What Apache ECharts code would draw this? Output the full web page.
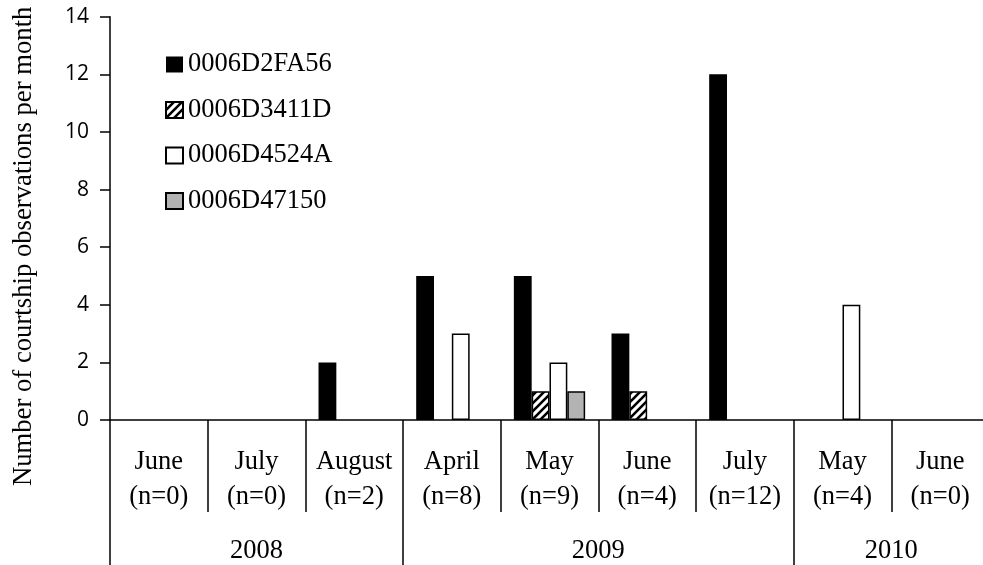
<!DOCTYPE html>
<html><head><meta charset="utf-8">
<script src="https://cdn.jsdelivr.net/npm/echarts@6/dist/echarts.min.js"></script>
<style>html,body{margin:0;padding:0;background:#fff}#c{width:983px;height:565px}</style>
</head><body><div id="c"></div>
<script>
// ---- data ----
const months = ['June','July','August','April','May','June','July','May','June'];
const nCounts = [0,0,2,8,9,4,12,4,0];
const years = ['2008','2009','2010'];
const monthsPerYear = [3,4,2];
const seriesNames = ['0006D2FA56','0006D3411D','0006D4524A','0006D47150'];
const tag56 = [0,0,2,5,5,3,12,0,0];
const tag1D = [0,0,0,0,1,1,0,0,0];
const tag4A = [0,0,0,3,2,0,0,4,0];
const tag50 = [0,0,0,0,1,0,0,0,0];
const yMin = 0, yMax = 14, yStep = 2;
const yTitle = 'Number of courtship observations per month';

// ---- derived ----
const monthLabels = months.map((m,i)=> m + '\n(n=' + nCounts[i] + ')');
const halfCount = months.length * 2 + 1;
const halfData = Array.from({length: halfCount}, (_, i) => 'h' + i);
const yearBoundary = new Set([0]);
const yearLabelAt = {};
let start = 0;
years.forEach((y, k) => {
  yearLabelAt[2*start + monthsPerYear[k]] = y;
  start += monthsPerYear[k];
  yearBoundary.add(2*start);
});
// zero counts draw no bar
const asBars = arr => arr.map(v => v === 0 ? null : v);

// hatch pattern
const pc = document.createElement('canvas');
pc.width = 8; pc.height = 8;
const g = pc.getContext('2d');
g.fillStyle = '#fff'; g.fillRect(0,0,8,8);
g.strokeStyle = '#000'; g.lineWidth = 2.6;
g.beginPath();
g.moveTo(-2,10); g.lineTo(10,-2);
g.moveTo(-2,2); g.lineTo(2,-2);
g.moveTo(6,10); g.lineTo(10,6);
g.stroke();

const serif = 'Liberation Serif';
const chart = echarts.init(document.getElementById('c'), null, {renderer:'canvas'});
chart.setOption({
  animation: false,
  backgroundColor: '#fff',
  grid: {left: 110, width: 879, top: 16.7, height: 403.3, containLabel: false, outerBoundsMode: 'none'},
  legend: {
    data: seriesNames, orient: 'vertical', left: 160, top: 46,
    itemWidth: 17, itemHeight: 16, itemGap: 18.5, icon: 'rect',
    textStyle: {fontFamily: serif, fontSize: 26.5, color: '#000', lineHeight: 26}
  },
  xAxis: [{
    type: 'category', data: monthLabels, position: 'bottom',
    axisLine: {show: true, lineStyle: {color: '#000', width: 1.5}},
    axisTick: {show: true, interval: 0, length: 92, lineStyle: {color: '#000', width: 1.5}},
    axisLabel: {interval: 0, fontFamily: serif, fontSize: 26.5, lineHeight: 35, color: '#000', margin: 25},
    splitLine: {show: false}
  }, {
    type: 'category', data: halfData, position: 'bottom', boundaryGap: false,
    axisLine: {show: false},
    axisTick: {show: true, length: 150, interval: (i) => yearBoundary.has(i), lineStyle: {color: '#000', width: 1.5}},
    axisLabel: {interval: 0, fontFamily: serif, fontSize: 26.5, color: '#000', margin: 118,
      formatter: (v, i) => yearLabelAt[i] || ''},
    splitLine: {show: false}
  }],
  yAxis: {
    type: 'value', min: yMin, max: yMax, interval: yStep,
    name: yTitle, nameLocation: 'middle', nameGap: 73, nameRotate: 90,
    nameTextStyle: {fontFamily: serif, fontSize: 26.7, color: '#000', padding: [0, 56, 0, 0]},
    axisLine: {show: true, lineStyle: {color: '#000', width: 1.5}},
    axisTick: {show: true, length: 10, lineStyle: {color: '#000', width: 1.5}},
    axisLabel: {fontFamily: 'Open Sans', fontSize: 21, color: '#000', margin: 21},
    splitLine: {show: false}
  },
  series: [
    {name: seriesNames[0], type: 'bar', data: asBars(tag56), barGap: '0%', barCategoryGap: '27%',
      itemStyle: {color: '#000', borderWidth: 0}},
    {name: seriesNames[1], type: 'bar', data: asBars(tag1D), barGap: '0%', barCategoryGap: '27%',
      itemStyle: {color: {image: pc, repeat: 'repeat'}, borderColor: '#000', borderWidth: 1.5}},
    {name: seriesNames[2], type: 'bar', data: asBars(tag4A), barGap: '0%', barCategoryGap: '27%',
      itemStyle: {color: '#fff', borderColor: '#000', borderWidth: 1.5}},
    {name: seriesNames[3], type: 'bar', data: asBars(tag50), barGap: '0%', barCategoryGap: '27%',
      itemStyle: {color: '#b3b3b3', borderColor: '#000', borderWidth: 1.5}}
  ]
});
</script></body></html>
